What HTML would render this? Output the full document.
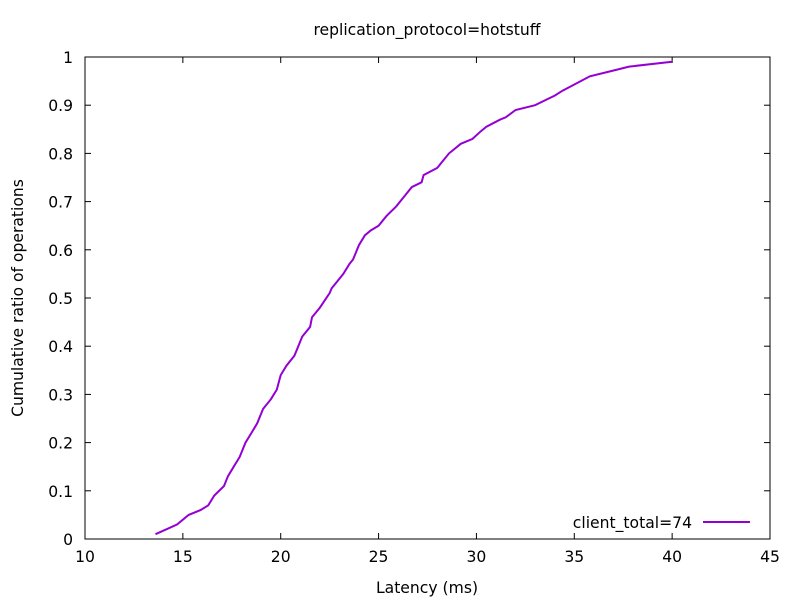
<!DOCTYPE html>
<html><head><meta charset="utf-8"><style>
body{margin:0;background:#fff}
svg{font-family:"DejaVu Sans","Liberation Sans",sans-serif;font-size:15.6px}
</style></head><body>
<svg id="chart" width="800" height="600">
<rect width="800" height="600" fill="#fff"/>
<g id="ticks"></g>
<rect x="85" y="57" width="685" height="482" fill="none" stroke="#000" stroke-width="1"/>
<text x="427" y="35" text-anchor="middle">replication_protocol=hotstuff</text>
<text x="427" y="593" text-anchor="middle">Latency (ms)</text>
<text transform="translate(23,298) rotate(-90)" text-anchor="middle">Cumulative ratio of operations</text>
<g>
<text x="692" y="528" text-anchor="end">client_total=74</text>
<line x1="703" y1="522" x2="750" y2="522" stroke="#9400d3" stroke-width="2"/>
</g>
<path id="series" fill="none" stroke="#9400d3" stroke-width="2"/>
</svg>
<script>
const latency=[13.6,14.7,15.3,15.9,16.3,16.6,17.1,17.3,17.6,17.9,18.2,18.5,18.8,19.1,19.5,19.8,20.0,20.3,20.7,20.9,21.1,21.5,21.6,22.0,22.5,22.6,23.2,23.5,23.7,24.0,24.3,24.6,25.0,25.4,25.9,26.3,26.7,27.2,27.3,28.0,28.2,28.6,29.2,29.8,30.2,30.5,31.2,31.5,32.0,33.0,33.5,34.0,34.4,35.8,36.8,37.8,40.0];
const ratio=[0.01,0.03,0.05,0.06,0.07,0.09,0.11,0.13,0.15,0.17,0.20,0.22,0.24,0.27,0.29,0.31,0.34,0.36,0.38,0.40,0.42,0.44,0.46,0.48,0.51,0.52,0.55,0.57,0.58,0.61,0.63,0.64,0.65,0.67,0.69,0.71,0.73,0.74,0.755,0.77,0.78,0.80,0.82,0.83,0.845,0.855,0.87,0.875,0.89,0.90,0.91,0.92,0.93,0.96,0.97,0.98,0.99];
const xTicks=[10,15,20,25,30,35,40,45];
const yTicks=[0,0.1,0.2,0.3,0.4,0.5,0.6,0.7,0.8,0.9,1];
const yTickLabels=["0","0.1","0.2","0.3","0.4","0.5","0.6","0.7","0.8","0.9","1"];
const X0=85,X1=770,Y0=539,Y1=57;
function sx(v){return X0+(v-10)/35*(X1-X0);}
function sy(v){return Y0-v*(Y0-Y1);}
const NS="http://www.w3.org/2000/svg";
const g=document.getElementById('ticks');
function mk(t,a){const e=document.createElementNS(NS,t);for(const k in a)e.setAttribute(k,a[k]);return e;}
xTicks.forEach(v=>{
 const x=sx(v);
 const l1=mk('line',{x1:x,y1:Y0,x2:x,y2:Y0-6,stroke:'#000'});
 
 
 g.appendChild(l1);
 const l2=mk('line',{x1:x,y1:Y1,x2:x,y2:Y1+6,stroke:'#000'});
 
 
 g.appendChild(l2);
 const t=mk('text',{x:x,y:Y0+23,'text-anchor':'middle'});
 t.textContent=String(v);
 
 
 g.appendChild(t);
});
yTicks.forEach((v,i)=>{
 const y=sy(v);
 const l1=mk('line',{x1:X0,y1:y,x2:X0+6,y2:y,stroke:'#000'});
 
 
 g.appendChild(l1);
 const l2=mk('line',{x1:X1,y1:y,x2:X1-6,y2:y,stroke:'#000'});
 
 
 g.appendChild(l2);
 const t=mk('text',{x:X0-12,y:y+6,'text-anchor':'end'});
 t.textContent=yTickLabels[i];
 
 
 g.appendChild(t);
});
document.getElementById('series').setAttribute('d',latency.map((v,i)=>(i?'L':'M')+sx(v).toFixed(1)+','+sy(ratio[i]).toFixed(1)).join(''));
</script>
</body></html>
